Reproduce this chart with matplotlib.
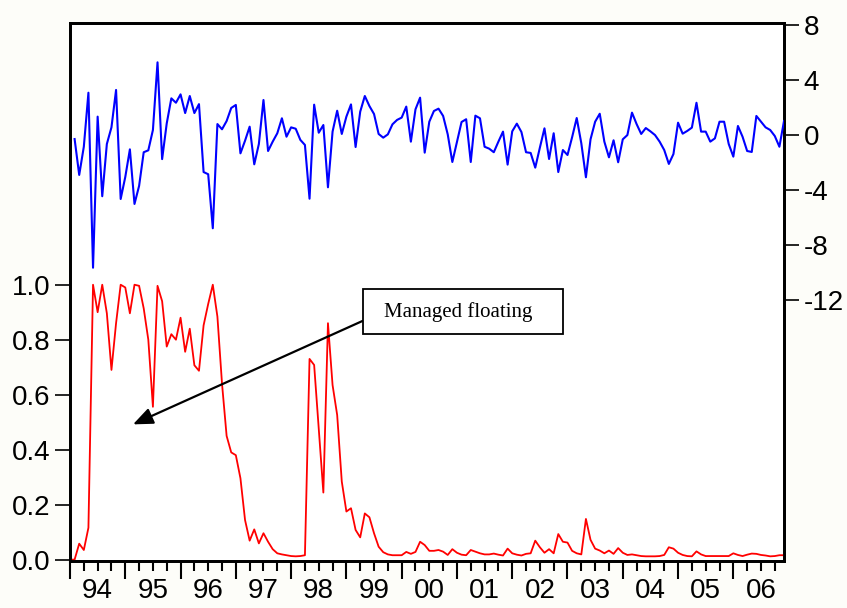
import numpy as np
import matplotlib
matplotlib.use("Agg")
import matplotlib.pyplot as plt
from matplotlib.patches import Rectangle

# ---- data (monthly, 1994:01 - 2006:12) ----
start_year = 1994
n_obs = 156

# regime probability (left axis), months 0..155
prob_values = [
    0.0, 0.0, 0.058, 0.035, 0.116, 1.0, 0.90, 1.0, 0.896, 0.69,
    0.86, 1.0, 0.99, 0.896, 1.0, 0.996, 0.914, 0.80, 0.556, 0.996,
    0.94, 0.775, 0.82, 0.80, 0.88, 0.756, 0.84, 0.707, 0.687, 0.852,
    0.93, 1.0, 0.884, 0.64, 0.45, 0.39, 0.38, 0.296, 0.144, 0.069,
    0.11, 0.059, 0.096, 0.065, 0.038, 0.023, 0.019, 0.016, 0.013, 0.012,
    0.013, 0.016, 0.73, 0.708, 0.475, 0.244, 0.86, 0.635, 0.526, 0.284,
    0.175, 0.187, 0.108, 0.081, 0.168, 0.154, 0.096, 0.047, 0.027, 0.019,
    0.016, 0.016, 0.016, 0.028, 0.021, 0.028, 0.065, 0.053, 0.032, 0.032,
    0.035, 0.029, 0.017, 0.038, 0.025, 0.018, 0.016, 0.035, 0.029, 0.023,
    0.019, 0.019, 0.022, 0.018, 0.015, 0.040, 0.023, 0.018, 0.015, 0.021,
    0.023, 0.069, 0.045, 0.025, 0.038, 0.023, 0.093, 0.065, 0.062, 0.032,
    0.023, 0.019, 0.148, 0.072, 0.040, 0.033, 0.023, 0.033, 0.021, 0.042,
    0.025, 0.017, 0.019, 0.016, 0.013, 0.012, 0.012, 0.012, 0.013, 0.017,
    0.045, 0.040, 0.025, 0.017, 0.013, 0.012, 0.030, 0.019, 0.013, 0.013,
    0.013, 0.013, 0.013, 0.013, 0.023, 0.017, 0.013, 0.018, 0.022, 0.021,
    0.017, 0.015, 0.012, 0.013, 0.016, 0.016,
]

# monthly change series (right axis), months 1..155
change_values = [
    -0.29, -2.90, -0.85, 3.08, -9.65, 1.34, -4.45, -0.65, 0.56, 3.28,
    -4.65, -3.05, -1.04, -5.01, -3.70, -1.25, -1.11, 0.37, 5.29, -1.75,
    0.85, 2.67, 2.35, 2.96, 1.60, 2.84, 1.60, 2.25, -2.69, -2.85,
    -6.78, 0.80, 0.42, 1.02, 1.97, 2.19, -1.33, -0.41, 0.61, -2.13,
    -0.65, 2.55, -1.16, -0.48, 0.13, 1.22, -0.12, 0.56, 0.46, -0.35,
    -0.72, -4.63, 2.21, 0.17, 0.73, -3.80, 0.25, 1.77, 0.08, 1.34,
    2.23, -0.87, 1.70, 2.84, 2.11, 1.53, 0.08, -0.19, 0.05, 0.78,
    1.10, 1.27, 2.07, -0.48, 1.87, 2.72, -1.28, 0.97, 1.75, 1.92,
    1.39, 0.05, -1.96, -0.50, 0.95, 1.15, -1.96, 1.41, 1.22, -0.85,
    -0.99, -1.25, -0.48, 0.25, -2.15, 0.27, 0.83, 0.22, -1.25, -1.30,
    -2.37, -0.92, 0.49, -1.74, 0.13, -2.69, -1.09, -1.45, -0.16, 1.24,
    -0.60, -3.07, -0.31, 0.97, 1.55, -0.48, -1.62, -0.38, -1.98, -0.31,
    0.00, 1.63, 0.80, 0.08, 0.51, 0.27, 0.00, -0.48, -1.09, -2.10,
    -1.38, 0.90, 0.10, 0.30, 0.54, 2.35, 0.25, 0.25, -0.48, -0.24,
    0.97, 0.97, -0.65, -1.57, 0.66, -0.12, -1.16, -1.23, 1.39, 0.97,
    0.56, 0.37, -0.07, -0.85, 1.02,
]

year_labels = ["94", "95", "96", "97", "98", "99", "00", "01", "02", "03", "04", "05", "06"]
left_ticks = [0.0, 0.2, 0.4, 0.6, 0.8, 1.0]
left_tick_labels = ["0.0", "0.2", "0.4", "0.6", "0.8", "1.0"]
right_ticks = [-12, -8, -4, 0, 4, 8]
right_tick_labels = ["-12", "-8", "-4", "0", "4", "8"]
annotation_text = "Managed floating"

# ---- figure ----
W, H = 847, 608
fig = plt.figure(figsize=(W / 100, H / 100), dpi=100)
fig.patch.set_facecolor("#fdfdf9")

ax1 = fig.add_axes([70 / W, 1 - 561 / H, (784 - 70) / W, (561 - 23) / H])
ax1.set_facecolor("white")
ax2 = ax1.twinx()

t = start_year + np.arange(n_obs) / 12.0
ax1.plot(t, prob_values, color="#ff0000", lw=1.3, zorder=3)
ax2.plot(t[1:], change_values, color="#0000ff", lw=1.5, zorder=3)

ax1.set_xlim(t[0], t[-1])
ax1.set_ylim(-0.005, 1.952)
ax2.set_ylim(-30.98, 8.15)

tick_font = dict(family=["Liberation Sans", "DejaVu Sans"], size=20)

ax1.set_yticks(left_ticks)
ax1.set_yticklabels(left_tick_labels, **tick_font)
ax2.set_yticks(right_ticks)
ax2.set_yticklabels(right_tick_labels, **tick_font)

years = np.arange(start_year, start_year + len(year_labels))
ax1.set_xticks(years)
ax1.set_xticklabels([""] * len(years))
minor_pos = []
minor_lab = []
for k, y in enumerate(years):
    for q in (0.25, 0.5, 0.75):
        if y + q <= t[-1]:
            minor_pos.append(y + q)
            minor_lab.append(year_labels[k] if q == 0.5 else "")
ax1.set_xticks(minor_pos, minor=True)
ax1.set_xticklabels(minor_lab, minor=True, **tick_font)

ax1.tick_params(axis="x", which="major", direction="out", length=13, width=1.5, color="black")
ax1.tick_params(axis="x", which="minor", direction="out", length=7, width=1.5, color="black", pad=5)
ax1.tick_params(axis="y", direction="out", length=11, width=1.2, pad=3)
ax2.tick_params(axis="y", direction="out", length=11, width=1.2, pad=3)

for ax in (ax1, ax2):
    for s in ax.spines.values():
        s.set_linewidth(2.0)
        s.set_color("black")

# arrow + box annotation
ax1.annotate(
    "",
    xy=(1995.14, 0.492),
    xytext=(1999.29, 0.868),
    arrowprops=dict(arrowstyle="-|>,head_length=0.6,head_width=0.25",
                    color="black", lw=1.6, mutation_scale=20,
                    shrinkA=0, shrinkB=0),
    zorder=5,
)
box = Rectangle((363.3 / W, 1 - 334.3 / H), (562.7 - 363.3) / W, (334.3 - 289.3) / H,
                transform=fig.transFigure, facecolor="white", edgecolor="black",
                lw=1.3, zorder=6)
fig.add_artist(box)
fig.text(458 / W, 1 - 312 / H, annotation_text, ha="center", va="center",
         family=["Liberation Serif", "DejaVu Serif"], size=15, zorder=7)

fig.savefig("out.png", dpi=100, facecolor=fig.get_facecolor())
